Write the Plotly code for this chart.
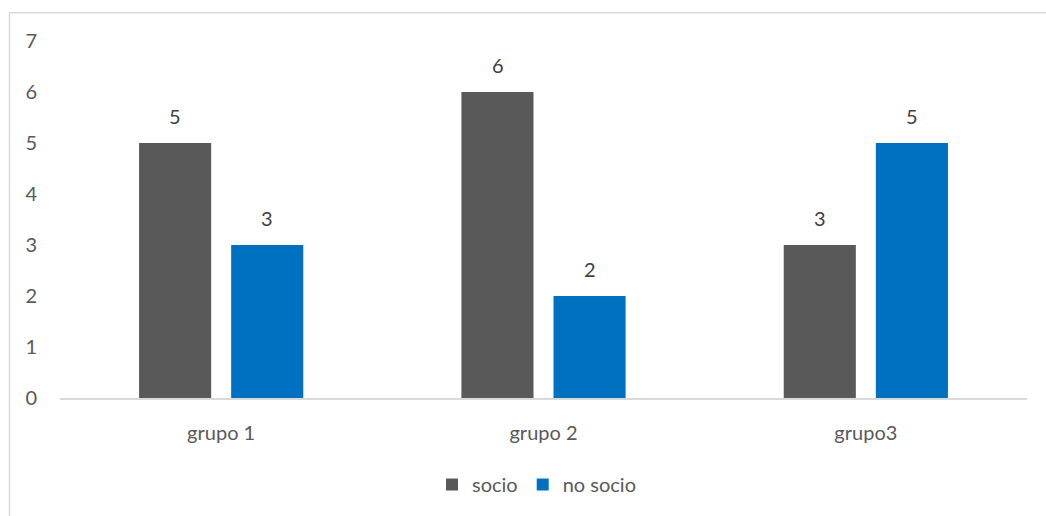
import plotly.graph_objects as go

categories = ["grupo 1", "grupo 2", "grupo3"]
socio = [5, 6, 3]
no_socio = [3, 2, 5]
series_names = ["socio", "no socio"]
colors = ["#595959", "#0070C0"]
y_ticks = [0, 1, 2, 3, 4, 5, 6, 7]

FONT = "Lato, 'Open Sans', sans-serif"
W, H = 1046, 516
L, R, T, B = 60, 19, 41, 116
plot_w = W - L - R
plot_h = H - T - B

fig = go.Figure()
for name, vals, col in zip(series_names, [socio, no_socio], colors):
    fig.add_trace(go.Bar(x=categories, y=vals, name=name, marker=dict(color=col, line=dict(width=0))))

# value labels above each bar
slot = 92
for i, vals in enumerate([socio, no_socio]):
    shift = (i - 0.5) * slot
    for c, v in zip(categories, vals):
        fig.add_annotation(x=c, y=v, text=str(v), showarrow=False, xshift=shift,
                           yanchor="bottom", yshift=13,
                           font=dict(family=FONT, size=20, color="#404040"))

# outer chart border
px = lambda p: (p - L) / plot_w
py = lambda p: (H - B - p) / plot_h
fig.add_shape(type="rect", xref="paper", yref="paper",
              x0=px(9.5), x1=px(1100), y0=py(12.5), y1=py(600),
              line=dict(color="#d9d9d9", width=1.5), fillcolor="rgba(0,0,0,0)")

fig.update_layout(
    width=W, height=H,
    margin=dict(l=L, r=R, t=T, b=B),
    paper_bgcolor="white", plot_bgcolor="white",
    barmode="group", bargap=0.4286, bargroupgap=0.217,
    font=dict(family=FONT, size=20, color="#595959"),
    showlegend=True,
    legend=dict(orientation="h", x=px(537), xanchor="center", y=py(487), yanchor="middle",
                font=dict(size=20, color="#595959"), itemwidth=30, traceorder="normal",
                tracegroupgap=0),
    xaxis=dict(showline=True, linecolor="#d9d9d9", linewidth=1.5, ticks="",
               showgrid=False, ticklabelstandoff=16, tickfont=dict(size=20, color="#595959")),
    yaxis=dict(range=[0, 7], tickvals=y_ticks, showgrid=False, zeroline=False,
               showline=False, ticks="", ticklabelstandoff=22,
               tickfont=dict(size=20, color="#595959")),
)

fig.write_html("out.html")
